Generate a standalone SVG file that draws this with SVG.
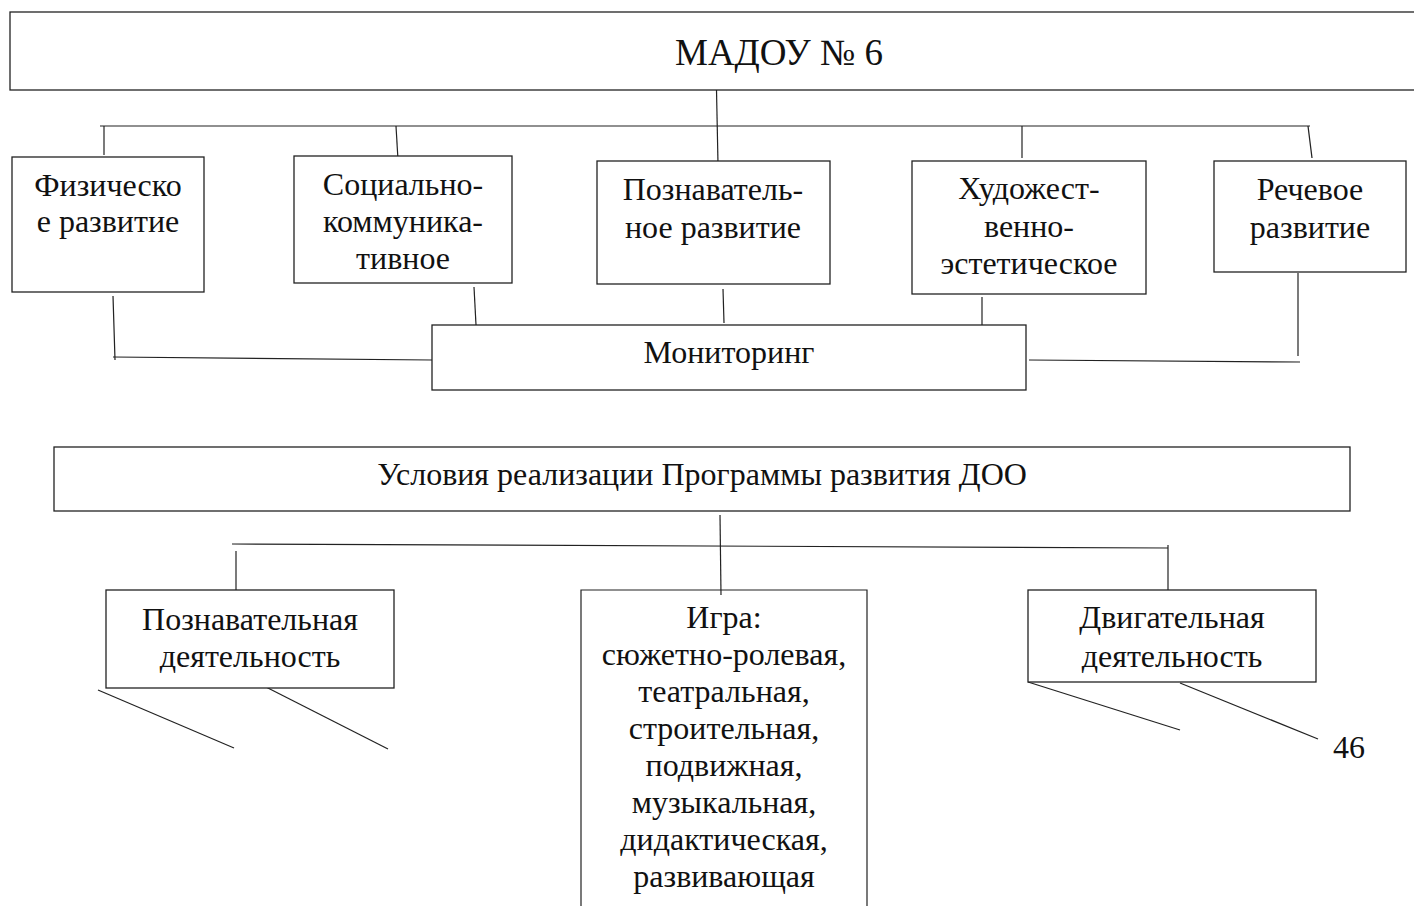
<svg xmlns="http://www.w3.org/2000/svg" width="1414" height="906" viewBox="0 0 1414 906">
<style>
.box{fill:#fff;stroke:#222;stroke-width:1.3}
.ln{fill:none;stroke:#222;stroke-width:1.2}
text{font-family:"Liberation Serif","DejaVu Serif",serif;font-size:32px;fill:#111;text-anchor:middle}
.big{font-size:37px}
</style>
<rect width="1414" height="906" fill="#fff"/>
<g id="connectors">
<line class="ln" x1="716.5" y1="90" x2="718" y2="164"/>
<line class="ln" x1="100" y1="126" x2="1310" y2="126"/>
<line class="ln" x1="104" y1="126" x2="104" y2="155"/>
<line class="ln" x1="396" y1="126" x2="398" y2="160"/>
<line class="ln" x1="1022" y1="126" x2="1022" y2="158"/>
<line class="ln" x1="1308" y1="126" x2="1312" y2="158"/>
<line class="ln" x1="113" y1="296" x2="115" y2="360"/>
<line class="ln" x1="113" y1="357" x2="432" y2="360"/>
<line class="ln" x1="474" y1="287" x2="476" y2="325"/>
<line class="ln" x1="723" y1="289" x2="724" y2="323"/>
<line class="ln" x1="982" y1="297" x2="982" y2="328"/>
<line class="ln" x1="1029" y1="360" x2="1300" y2="362"/>
<line class="ln" x1="1298" y1="273" x2="1298" y2="356"/>
<line class="ln" x1="232" y1="544" x2="1168" y2="548"/>
<line class="ln" x1="236" y1="551" x2="236" y2="596"/>
<line class="ln" x1="1168" y1="545" x2="1168" y2="590"/>
<line class="ln" x1="720" y1="515" x2="721" y2="595"/>
<line class="ln" x1="98" y1="690" x2="234" y2="748"/>
<line class="ln" x1="262" y1="685" x2="388" y2="749"/>
<line class="ln" x1="1028" y1="682" x2="1180" y2="730"/>
<line class="ln" x1="1180" y1="683" x2="1318" y2="739"/>
</g>
<g id="madou">
<rect class="box" x="10" y="12" width="1420" height="78"/>
<text class="big" x="779" y="65">МАДОУ № 6</text>
</g>
<g id="phys">
<rect class="box" x="12" y="157" width="192" height="135"/>
<text x="108" y="196">Физическо</text>
<text x="108" y="232">е развитие</text>
</g>
<g id="social">
<rect class="box" x="294" y="156" width="218" height="127"/>
<text x="403" y="195">Социально-</text>
<text x="403" y="232">коммуника-</text>
<text x="403" y="269">тивное</text>
</g>
<g id="cogn">
<rect class="box" x="597" y="161" width="233" height="123"/>
<text x="713" y="200">Познаватель-</text>
<text x="713" y="238">ное развитие</text>
</g>
<g id="art">
<rect class="box" x="912" y="161" width="234" height="133"/>
<text x="1029" y="199">Художест-</text>
<text x="1029" y="237">венно-</text>
<text x="1029" y="274">эстетическое</text>
</g>
<g id="speech">
<rect class="box" x="1214" y="161" width="192" height="111"/>
<text x="1310" y="200">Речевое</text>
<text x="1310" y="238">развитие</text>
</g>
<g id="monitoring">
<rect class="box" x="432" y="325" width="594" height="65"/>
<text x="729" y="363">Мониторинг</text>
</g>
<g id="conditions">
<rect class="box" x="54" y="447" width="1296" height="64"/>
<text x="702" y="485">Условия реализации Программы развития ДОО</text>
</g>
<g id="cogact">
<rect class="box" x="106" y="590" width="288" height="98"/>
<text x="250" y="630">Познавательная</text>
<text x="250" y="667">деятельность</text>
</g>
<g id="game">
<path class="ln" d="M581,910 V590 H867 V910"/>
<text x="724" y="628">Игра:</text>
<text x="724" y="665">сюжетно-ролевая,</text>
<text x="724" y="702">театральная,</text>
<text x="724" y="739">строительная,</text>
<text x="724" y="776">подвижная,</text>
<text x="724" y="813">музыкальная,</text>
<text x="724" y="850">дидактическая,</text>
<text x="724" y="887">развивающая</text>
</g>
<g id="motor">
<rect class="box" x="1028" y="590" width="288" height="92"/>
<text x="1172" y="628">Двигательная</text>
<text x="1172" y="667">деятельность</text>
</g>
<text x="1349" y="758">46</text>
</svg>
